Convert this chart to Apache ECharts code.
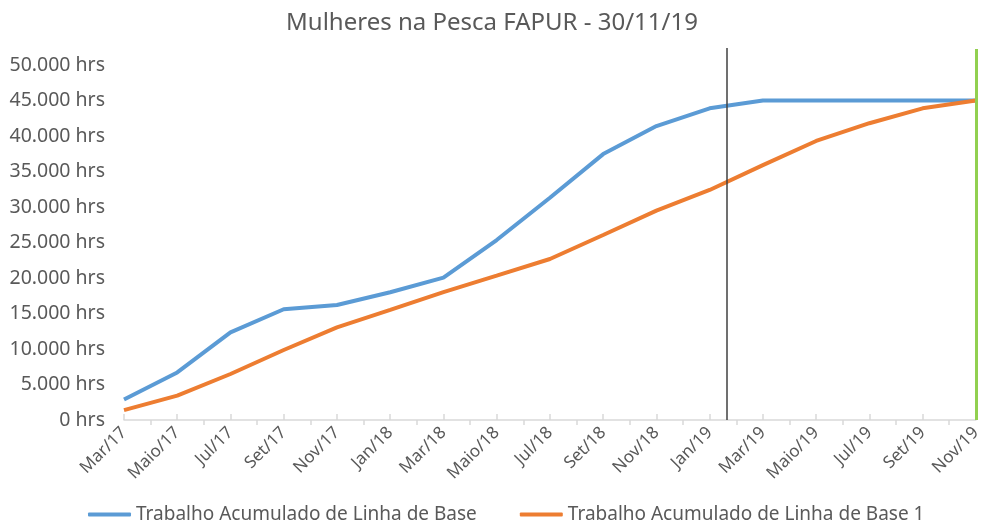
<!DOCTYPE html>
<html>
<head>
<meta charset="utf-8">
<script src="https://cdn.jsdelivr.net/npm/echarts@6/dist/echarts.min.js"></script>
<style>
  html, body { margin: 0; padding: 0; background: #fff; }
  #chart { width: 984px; height: 525px; }
</style>
</head>
<body>
<div id="chart"></div>
<script>
const months = ['Mar/17', 'Maio/17', 'Jul/17', 'Set/17', 'Nov/17', 'Jan/18', 'Mar/18', 'Maio/18', 'Jul/18',
  'Set/18', 'Nov/18', 'Jan/19', 'Mar/19', 'Maio/19', 'Jul/19', 'Set/19', 'Nov/19']

const baseLine = [2900, 6700, 12350, 15600, 16200, 18000, 20050, 25350, 31300, 37450, 41400, 43900,
  45000, 45000, 45000, 45000, 45000]
const baseLine1 = [1400, 3430, 6480, 9860, 13050, 15500, 18000, 20330, 22680, 26060, 29480, 32400,
  35900, 39300, 41800, 43900, 45000]

// vertical markers, in category index units
const statusDate = 11.32
const endDate = 16

const textColor = '#595959'
const axisColor = '#d9d9d9'
const font = '"Noto Sans", sans-serif'

function fmtHrs(v) {
  return String(v).replace(/\B(?=(\d{3})+(?!\d))/g, '.') + ' hrs'
}

const chart = echarts.init(document.getElementById('chart'))

const option = {
  animation: false,
  title: {
    text: 'Mulheres na Pesca FAPUR - 30/11/19',
    left: 'center',
    top: 6,
    textStyle: { color: textColor, fontSize: 24, fontWeight: 'normal', fontFamily: font },
  },
  legend: {
    bottom: -4,
    left: 83,
    itemWidth: 43,
    itemHeight: 4,
    itemGap: 43,
    icon: 'roundRect',
    data: ['Trabalho Acumulado de Linha de Base', 'Trabalho Acumulado de Linha de Base 1'],
    textStyle: { color: textColor, fontSize: 19, fontFamily: font },
  },
  grid: { left: 124, right: 4, top: 65, bottom: 105, containLabel: false },
  xAxis: [
    {
      type: 'category',
      data: months,
      boundaryGap: false,
      axisLine: { lineStyle: { color: axisColor, width: 1.5 } },
      axisTick: { inside: true, length: 6, lineStyle: { color: axisColor, width: 1.5 } },
      axisLabel: { rotate: 45, margin: 10, color: textColor, fontSize: 17, fontFamily: font, interval: 0 },
      splitLine: { show: false },
    },
    {
      type: 'value',
      min: 0,
      max: 16,
      interval: 1,
      position: 'bottom',
      axisLine: { show: false },
      axisTick: { show: false },
      axisLabel: { show: false },
      splitLine: { show: false },
      minorTick: { show: true, splitNumber: 2, length: 5, lineStyle: { color: axisColor, width: 1.5 } },
      minorSplitLine: { show: false },
    },
  ],
  yAxis: {
    type: 'value',
    min: 0,
    max: 50000,
    interval: 5000,
    axisLine: { show: false },
    axisTick: { show: false },
    splitLine: { show: false },
    axisLabel: { color: textColor, fontSize: 19.5, fontFamily: font, margin: 19, formatter: fmtHrs },
  },
  series: [
    {
      name: 'Trabalho Acumulado de Linha de Base',
      type: 'line',
      data: baseLine,
      showSymbol: false,
      symbol: 'none',
      color: '#5b9bd5',
      lineStyle: { width: 4 },
    },
    {
      name: 'Trabalho Acumulado de Linha de Base 1',
      type: 'line',
      data: baseLine1,
      showSymbol: false,
      symbol: 'none',
      color: '#ed7d31',
      lineStyle: { width: 4 },
    },
    {
      type: 'line',
      xAxisIndex: 1,
      data: [],
      z: 5,
      markLine: {
        silent: true,
        symbol: ['none', 'none'],
        label: { show: false },
        data: [
          [
            { xAxis: statusDate, y: 48, lineStyle: { color: '#404040', width: 1.5, type: 'solid' } },
            { xAxis: statusDate, yAxis: 0 },
          ],
          [
            { xAxis: endDate, y: 49, lineStyle: { color: '#92d050', width: 3, type: 'solid' } },
            { xAxis: endDate, yAxis: 0 },
          ],
        ],
      },
    },
  ],
}

chart.setOption(option)
window.addEventListener('resize', () => chart.resize())
</script>
</body>
</html>
